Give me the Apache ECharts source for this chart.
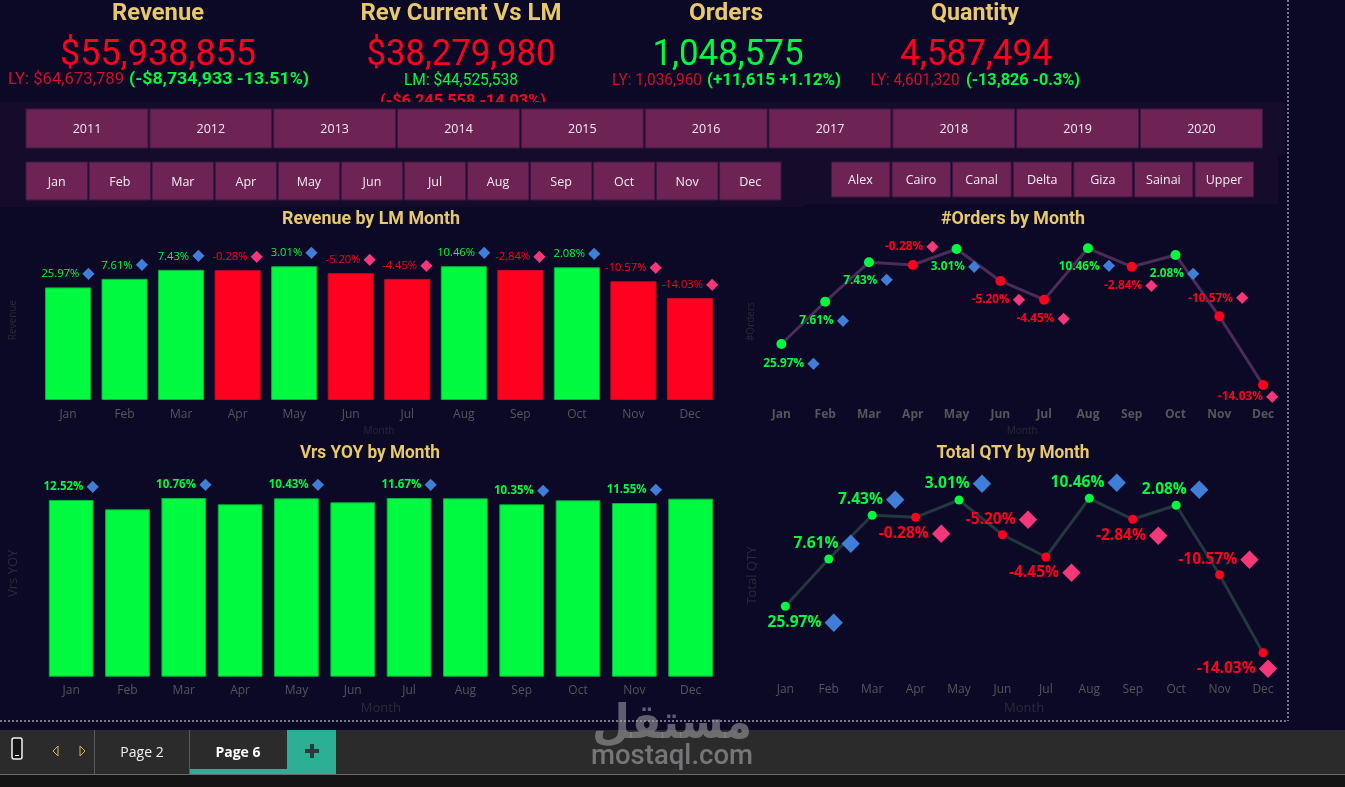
<!DOCTYPE html>
<html><head><meta charset="utf-8">
<style>html,body{margin:0;padding:0;background:#0b0926;overflow:hidden}#c{width:1345px;height:787px}</style>
<script src="https://cdn.jsdelivr.net/npm/echarts@6/dist/echarts.min.js"></script>
</head><body><div id="c"></div>
<script>
const months = ['Jan','Feb','Mar','Apr','May','Jun','Jul','Aug','Sep','Oct','Nov','Dec'];
const years = ['2011','2012','2013','2014','2015','2016','2017','2018','2019','2020'];
const regions = ['Alex','Cairo','Canal','Delta','Giza','Sainai','Upper'];
// $M per month
const revenueM = [42.26,45.47,48.85,48.71,50.18,47.57,45.45,50.20,48.78,49.79,44.53,38.28];
const vsLmPct = [25.97,7.61,7.43,-0.28,3.01,-5.20,-4.45,10.46,-2.84,2.08,-10.57,-14.03];
const yoyM = [53.0,50.2,53.6,51.7,53.5,52.3,53.6,53.5,51.7,52.9,52.1,53.4];
const yoyPct = [12.52,null,10.76,null,10.43,null,11.67,null,10.35,null,11.55,null];
// thousands per month
const ordersK = [80.36,85.43,90.16,89.84,91.76,87.92,85.67,91.84,89.63,91.04,83.68,75.44];
const qtyK = [351.65,375.3,397.15,396.15,404.8,387.45,376.3,405.65,395.15,402.15,367.45,328.45];

// label layout (not data)
const ordersLabelOffset = [[10,20],[-1,19],[-1,18],[-1,-18],[-1,18],[-2,19],[-1,19],[-1,18],[-1,19],[-1,19],[-1,-18],[-15,12]];
const qtyLabelOffset = [[20,16],[-2,-15],[-1,-16],[-1,16],[-1,-16],[-1,-15],[-1,16],[-1,-16],[-1,16],[-1,-16],[-1,-15],[-26,16]];

const GREEN='#00FA40', RED='#FF001E', BLUE='#3F7FD8', PINK='#F8377A', GOLD='#E8C96A', BG='#0B0926';
const UI='"Open Sans"', DIN='Roboto';
const fmtPct=v=>v.toFixed(2)+'%';
const mctx=document.createElement('canvas').getContext('2d');
function fit(text,cx,cy,w,font,fill,z){mctx.font=font;const m=mctx.measureText(text).width;
  return {type:'text',x:cx,y:cy+1.5,scaleX:w/m,z:z||5,silent:true,style:{text,font,fill,align:'center',verticalAlign:'middle'}};}
function rect(x,y,w,h,fill,z,stroke){return {type:'rect',z:z||1,silent:true,shape:{x,y,width:w,height:h},style:{fill,stroke:stroke||null,lineWidth:stroke?1:0}};}
function txt(text,x,y,font,fill,z){return {type:'text',x,y:y+1,z:z||5,silent:true,style:{text,font,fill,align:'center',verticalAlign:'middle'}};}
function pctLabel(v,size,dSize,bold,offset){
  const c=v>=0?GREEN:RED, d=v>=0?BLUE:PINK;
  const l={show:true,formatter:'{t|'+fmtPct(v)+'} {d|◆}',rich:{
    t:{color:c,fontFamily:UI,fontSize:size,fontWeight:bold?'bold':'normal'},
    d:{color:d,fontFamily:'DejaVu Sans',fontSize:dSize}}};
  if(offset){l.position='inside';l.offset=offset;} else {l.position='top';l.distance=5.5;}
  return l;
}
const g=[];
// upper KPI block
const B23='bold 24px '+DIN, N36='37px '+DIN;
[['Revenue',158,92],['Rev Current Vs LM',461,201],['Orders',726,74],['Quantity',975,88]].forEach(a=>g.push(fit(a[0],a[1],12,a[2],B23,GOLD)));
[['$55,938,855',158,54.5,196,RED],['$38,279,980',461,54.5,189,RED],['1,048,575',728,54.5,151,GREEN],['4,587,494',976,54.5,152,RED]].forEach(a=>g.push(fit(a[0],a[1],a[2],a[3],N36,a[4])));
const S='17px '+DIN, SB='bold 17px '+DIN, LYC='#D0102A';
g.push(fit('LY: $64,673,789',66,78,116,S,LYC));
g.push(fit('(-$8,734,933 -13.51%)',219,78,180,SB,GREEN));
g.push(fit('LM: $44,525,538',461,79,114,S,GREEN));
g.push(fit('(-$6,245,558 -14.03%)',463,100,166,SB,RED,1));
g.push(fit('LY: 1,036,960',657,79,90,S,LYC));
g.push(fit('(+11,615 +1.12%)',774,79,134,SB,GREEN));
g.push(fit('LY: 4,601,320',915,79,89,S,LYC));
g.push(fit('(-13,826 -0.3%)',1023,79,114,SB,GREEN));
// slicer bands
const BAND='#150C2C';
g.push(rect(0,102,1285,53,BAND,2));
g.push(rect(0,155,805,52,BAND,2));
g.push(rect(805,155,473,49,BAND,2));
const BTN='#6D2353', BTNS='#3E1745';
years.forEach((y,i)=>{const x=26+i*123.83;g.push(rect(x,109,122,39,BTN,3,BTNS));g.push(txt(y,x+61,128.5,'12.5px '+UI,'#F4ECF2'));});
months.forEach((m,i)=>{const x=26+i*63.05;g.push(rect(x,162,61.5,38,BTN,3,BTNS));g.push(txt(m,x+30.7,181,'12.5px '+UI,'#F4ECF2'));});
regions.forEach((r,i)=>{const x=831.4+i*60.6;g.push(rect(x,162,58.5,35,BTN,3,BTNS));g.push(txt(r,x+29,179.5,'12.5px '+UI,'#F4ECF2'));});
// chart titles
const T='bold 19px '+DIN;
g.push(fit('Revenue by LM Month',371,218,178,T,GOLD));
g.push(fit('#Orders by Month',1013,218,144,T,GOLD));
g.push(fit('Vrs YOY by Month',370,452,140,T,GOLD));
g.push(fit('Total QTY by Month',1013,452,153,T,GOLD));
// dotted page frame
const DOT={stroke:'#9A9AA6',lineWidth:1.5,lineDash:[2,2]};
g.push({type:'line',silent:true,z:4,shape:{x1:0,y1:721,x2:1288,y2:721},style:DOT});
g.push({type:'line',silent:true,z:4,shape:{x1:1288,y1:0,x2:1288,y2:721},style:DOT});
// tab bar
g.push(rect(0,730,1345,44,'#2B2B2B',3));
g.push(rect(0,774,1345,13,'#141414',3));
g.push(rect(0,774,1345,1,'#6A6A6A',4));
g.push(rect(94,730,1,44,'#5A5A5A',4));
g.push(rect(189,730,1,44,'#5A5A5A',4));
g.push({type:'rect',silent:true,z:5,shape:{x:12,y:738,width:10,height:21,r:2},style:{fill:'#141414',stroke:'#F2F2F2',lineWidth:1.5}});
g.push(rect(15,755,4,1,'#F2F2F2',6));
g.push({type:'polygon',silent:true,z:5,shape:{points:[[58,746],[58,756],[53,751]]},style:{fill:'#2B2B2B',stroke:'#D7B65A',lineWidth:1}});
g.push({type:'polygon',silent:true,z:5,shape:{points:[[80,746],[80,756],[85,751]]},style:{fill:'#2B2B2B',stroke:'#D7B65A',lineWidth:1}});
g.push(txt('Page 2',142,752,'14px '+UI,'#F2F2F2'));
g.push(txt('Page 6',238,752,'bold 14px '+UI,'#FFFFFF'));
g.push(rect(190,769,97,5,'#2BAE94',5));
g.push(rect(287,730,49,44,'#2BAE94',5));
g.push(rect(305,749,14,4,'#263A36',6));
g.push(rect(310,744,4,14,'#263A36',6));
// watermark
g.push(fit('مستقل',672,724,160,'bold 48px "DejaVu Sans"','rgba(165,165,170,0.55)',9));
g.push(fit('mostaql.com',672,755,162,'500 28px Roboto','rgba(165,165,170,0.62)',9));

const AXL='#56565C', NAME='#2A2A3A';
function xAx(i,margin,bold,gap,nameSize){return {type:'category',gridIndex:i,data:months,axisLine:{show:false},axisTick:{show:false},
  axisLabel:{color:AXL,fontFamily:UI,fontSize:12,fontWeight:bold?'bold':'normal',margin,interval:0},
  name:'Month',nameLocation:'middle',nameGap:gap,nameTextStyle:{color:NAME,fontFamily:UI,fontSize:nameSize}};}
function yAx(i,name,min,max,gap,pad,size){return {type:'value',gridIndex:i,min,max,axisLine:{show:false},axisTick:{show:false},axisLabel:{show:false},splitLine:{show:false},
  name,nameLocation:'middle',nameGap:gap,nameTextStyle:{color:NAME,fontFamily:UI,fontSize:size,padding:pad}};}

const revSeries=revenueM.map((v,i)=>({value:v,itemStyle:{color:vsLmPct[i]>=0?GREEN:RED,borderColor:vsLmPct[i]>=0?'#04B53A':'#C80A22',borderWidth:1},label:pctLabel(vsLmPct[i],11.2,16,false)}));
const yoySeries=yoyM.map((v,i)=>({value:v,itemStyle:{color:GREEN,borderColor:'#04B53A',borderWidth:1},label:yoyPct[i]==null?{show:false}:pctLabel(yoyPct[i],11.5,16,true)}));
function linePts(arr,offs,size,dSize){return arr.map((v,i)=>({value:v,itemStyle:{color:vsLmPct[i]>=0?GREEN:RED},label:pctLabel(vsLmPct[i],size,dSize,true,offs[i])}));}

const option={animation:false,backgroundColor:BG,textStyle:{fontFamily:UI},
 graphic:{elements:g},
 grid:[
  {left:39.75,width:678.5,top:240.1,height:159.9,outerBoundsMode:'none'},
  {left:759.5,width:525.5,top:230.3,height:166.7,outerBoundsMode:'none'},
  {left:43,width:675.8,top:470,height:206.7,outerBoundsMode:'none'},
  {left:763.6,width:521.1,top:469.6,height:200,outerBoundsMode:'none'}
 ],
 xAxis:[xAx(0,9,false,26,10),xAx(1,12,true,29,10),xAx(2,7.5,false,25,13),xAx(3,13.5,false,32,13)],
 yAxis:[yAx(0,'Revenue',0,60,22,0,10),yAx(1,'#Orders',74,94,3,[0,16,0,0],10),yAx(2,'Vrs YOY',0,62,23,0,13),yAx(3,'Total QTY',320,420,5,[0,12,0,0],13)],
 series:[
  {type:'bar',xAxisIndex:0,yAxisIndex:0,barCategoryGap:'18.5%',data:revSeries},
  {type:'line',xAxisIndex:1,yAxisIndex:1,symbol:'circle',symbolSize:10,lineStyle:{color:'#4B2C58',width:3},data:linePts(ordersK,ordersLabelOffset,11.8,16)},
  {type:'bar',xAxisIndex:2,yAxisIndex:2,barCategoryGap:'20.6%',data:yoySeries},
  {type:'line',xAxisIndex:3,yAxisIndex:3,symbol:'circle',symbolSize:9,lineStyle:{color:'#26363F',width:3},data:linePts(qtyK,qtyLabelOffset,15.5,24)}
 ]};
echarts.init(document.getElementById('c')).setOption(option);
</script></body></html>
